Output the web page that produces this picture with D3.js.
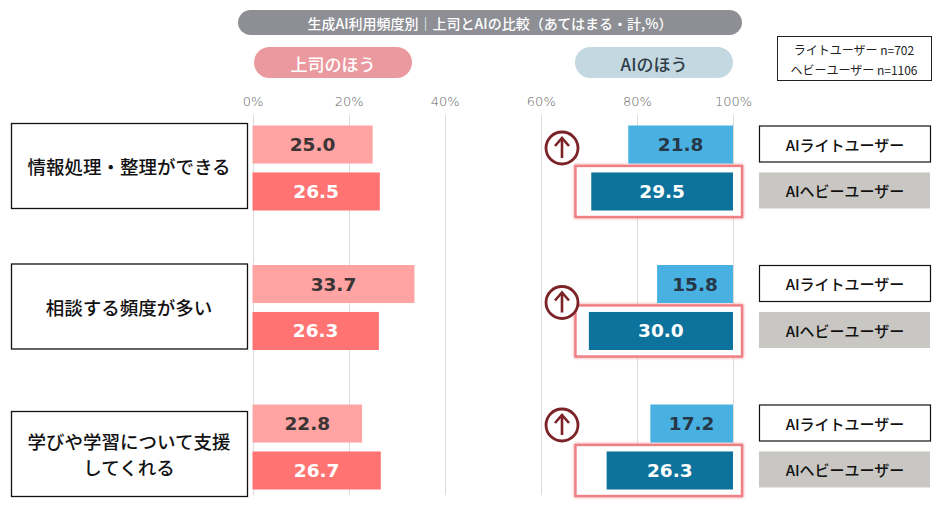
<!DOCTYPE html>
<html><head><meta charset="utf-8">
<script src="https://cdn.jsdelivr.net/npm/d3@7"></script>
<style>
body{margin:0;background:#fff;}
svg{display:block;font-family:"Noto Sans CJK JP","Noto Sans",sans-serif;}
</style></head>
<body><svg id="c" width="950" height="520"></svg>
<script>
const categories = ["情報処理・整理ができる", "相談する頻度が多い", "学びや学習について支援\nしてくれる"];
const series = ["light", "heavy"];
const bossLight = [25.0, 33.7, 22.8];
const bossHeavy = [26.5, 26.3, 26.7];
const aiLight = [21.8, 15.8, 17.2];
const aiHeavy = [29.5, 30.0, 26.3];
const tickValues = [0, 20, 40, 60, 80, 100];
const title = "生成AI利用頻度別｜上司とAIの比較（あてはまる・計,%）";
const bossLabel = "上司のほう";
const aiLabel = "AIのほう";
const rightLabels = ["AIライトユーザー", "AIヘビーユーザー"];
const legendLines = ["ライトユーザー n=702", "ヘビーユーザー n=1106"];

// layout
const boxOffsets = [-2, -1, 7];
const arrowOffsets = [-20, -5, -22];

const svg = d3.select("#c");
const x = d3.scaleLinear().domain([0, 100]).range([252.5, 733]);
const y = d3.scaleBand().domain(categories).range([98.25, 516.75]);
const yi = d3.scaleBand().domain(series).range([-42.5, 42.5]).paddingInner(0.19);
const cy = c => y(c) + y.bandwidth() / 2;

// defs: glow
const defs = svg.append("defs");
const f = defs.append("filter").attr("id", "glow").attr("x", "-20%").attr("y", "-40%").attr("width", "140%").attr("height", "180%");
f.append("feGaussianBlur").attr("in", "SourceGraphic").attr("stdDeviation", 1.8).attr("result", "b");
const m = f.append("feMerge");
m.append("feMergeNode").attr("in", "b");
m.append("feMergeNode").attr("in", "SourceGraphic");

// title pill
svg.append("rect").attr("x", 238).attr("y", 10).attr("width", 504).attr("height", 25).attr("rx", 12.5).attr("fill", "#8d8f95");
svg.append("text").attr("x", 490).attr("y", 23).attr("text-anchor", "middle").attr("dominant-baseline", "central")
  .attr("fill", "#fff").attr("font-size", 14).attr("font-weight", 500).text(title);

// sub pills
svg.append("rect").attr("x", 254).attr("y", 47).attr("width", 158).attr("height", 31).attr("rx", 15.5).attr("fill", "#ea9a9f");
svg.append("text").attr("x", 333).attr("y", 63).attr("text-anchor", "middle").attr("dominant-baseline", "central")
  .attr("fill", "#fff").attr("font-size", 17).attr("font-weight", 500).text(bossLabel);
svg.append("rect").attr("x", 575).attr("y", 47).attr("width", 158).attr("height", 31).attr("rx", 15.5).attr("fill", "#c4d8e1");
svg.append("text").attr("x", 654).attr("y", 63).attr("text-anchor", "middle").attr("dominant-baseline", "central")
  .attr("fill", "#2e3d47").attr("font-size", 17).attr("font-weight", 500).text(aiLabel);

// legend box
svg.append("rect").attr("x", 777.5).attr("y", 36.5).attr("width", 154).attr("height", 44).attr("fill", "#fff").attr("stroke", "#222").attr("stroke-width", 1);
svg.selectAll(".lg").data(legendLines).join("text").attr("class", "lg")
  .attr("x", 854).attr("y", (d, i) => 49 + i * 20).attr("text-anchor", "middle").attr("dominant-baseline", "central")
  .attr("font-size", 12).attr("fill", "#222").text(d => d);

// gridlines
svg.selectAll(".grid").data(tickValues).join("line").attr("class", "grid")
  .attr("x1", d => Math.round(x(d)) + 0.5).attr("x2", d => Math.round(x(d)) + 0.5)
  .attr("y1", 115).attr("y2", 495).attr("stroke", "#dcdcdc").attr("stroke-width", 1);

// axis
const axis = d3.axisTop(x).tickValues(tickValues).tickFormat(d => d + "%").tickSize(0).tickPadding(0);
const ag = svg.append("g").attr("transform", "translate(0,106)").call(axis);
ag.select(".domain").remove();
ag.selectAll("text").attr("font-family", "'DejaVu Sans', sans-serif").attr("font-weight", 200)
  .attr("font-size", 13).attr("fill", "#666").attr("dy", 0);

const rows = svg.selectAll(".row").data(categories).join("g").attr("class", "row");

// category boxes
rows.append("rect").attr("x", 11.5).attr("y", (d, i) => cy(d) + boxOffsets[i] - 42.5)
  .attr("width", 236).attr("height", 85).attr("fill", "#fff").attr("stroke", "#111").attr("stroke-width", 1.3);
rows.each(function (d, i) {
  const lines = d.split("\n");
  lines.forEach((ln, j) => {
    d3.select(this).append("text").attr("text-anchor", "middle").attr("font-size", 18.5)
      .attr("font-weight", 500).attr("fill", "#111")
      .attr("x", 129).attr("y", cy(d) + boxOffsets[i] + (j - (lines.length - 1) / 2) * 26.5)
      .attr("dominant-baseline", "central").text(ln);
  });
});

// left bars
const bossData = categories.map((c, i) => [{c, s: "light", v: bossLight[i]}, {c, s: "heavy", v: bossHeavy[i]}]).flat();
svg.selectAll(".bb").data(bossData).join("rect").attr("class", "bb")
  .attr("x", x(0)).attr("y", d => cy(d.c) + yi(d.s)).attr("width", d => x(d.v) - x(0)).attr("height", yi.bandwidth())
  .attr("fill", d => d.s === "light" ? "#ffa3a3" : "#ff7472");
svg.selectAll(".bt").data(bossData).join("text").attr("class", "bt")
  .attr("x", d => (x(0) + x(d.v)) / 2).attr("y", d => cy(d.c) + yi(d.s) + yi.bandwidth() / 2)
  .attr("text-anchor", "middle").attr("dominant-baseline", "central")
  .attr("font-family", "'DejaVu Sans', sans-serif").attr("font-weight", 700).attr("font-size", 18.5)
  .attr("fill", d => d.s === "light" ? "#3b3434" : "#fff").text(d => d.v.toFixed(1));

// highlight glow boxes
svg.selectAll(".hl").data(categories).join("rect").attr("class", "hl")
  .attr("x", 575.5).attr("y", d => cy(d) + yi("heavy") - 6.5).attr("width", 166.5).attr("height", yi.bandwidth() + 13)
  .attr("fill", "#fff").attr("stroke", "#ee7f82").attr("stroke-width", 2.4).attr("filter", "url(#glow)");

// right bars
const aiData = categories.map((c, i) => [{c, s: "light", v: aiLight[i]}, {c, s: "heavy", v: aiHeavy[i]}]).flat();
svg.selectAll(".ab").data(aiData).join("rect").attr("class", "ab")
  .attr("x", d => x(100 - d.v)).attr("y", d => cy(d.c) + yi(d.s)).attr("width", d => x(100) - x(100 - d.v)).attr("height", yi.bandwidth())
  .attr("fill", d => d.s === "light" ? "#49b0e2" : "#0d739c");
svg.selectAll(".at").data(aiData).join("text").attr("class", "at")
  .attr("x", d => (x(100 - d.v) + x(100)) / 2).attr("y", d => cy(d.c) + yi(d.s) + yi.bandwidth() / 2)
  .attr("text-anchor", "middle").attr("dominant-baseline", "central")
  .attr("font-family", "'DejaVu Sans', sans-serif").attr("font-weight", 700).attr("font-size", 18.5)
  .attr("fill", d => d.s === "light" ? "#263847" : "#fff").text(d => d.v.toFixed(1));

// up arrows
categories.forEach((c, i) => {
  const g = svg.append("g").attr("transform", `translate(562,${cy(c) + arrowOffsets[i]})`);
  g.append("circle").attr("r", 16).attr("fill", "#fff").attr("stroke", "#7b2326").attr("stroke-width", 2.8);
  g.append("line").attr("x1", 0).attr("x2", 0).attr("y1", 10).attr("y2", -9).attr("stroke", "#7b2326").attr("stroke-width", 2.6);
  g.append("path").attr("d", "M-7,-2 L0,-10 L7,-2").attr("fill", "none").attr("stroke", "#7b2326").attr("stroke-width", 2.6).attr("stroke-linejoin", "miter");
});

// right labels
const rl = categories.map(c => series.map((s, j) => ({c, s, label: rightLabels[j]}))).flat();
svg.selectAll(".rb").data(rl).join("rect").attr("class", "rb")
  .attr("x", d => d.s === "light" ? 759.5 : 759).attr("y", d => cy(d.c) + yi(d.s) + (d.s === "light" ? 0.5 : 0))
  .attr("width", 171).attr("height", 36)
  .attr("fill", d => d.s === "light" ? "#fff" : "#c8c7c3").attr("stroke", d => d.s === "light" ? "#111" : "none").attr("stroke-width", 1.2);
svg.selectAll(".rt").data(rl).join("text").attr("class", "rt")
  .attr("x", 845).attr("y", d => cy(d.c) + yi(d.s) + 18.5).attr("text-anchor", "middle").attr("dominant-baseline", "central")
  .attr("font-size", 15).attr("font-weight", 500).attr("fill", "#111").text(d => d.label);
</script></body></html>
